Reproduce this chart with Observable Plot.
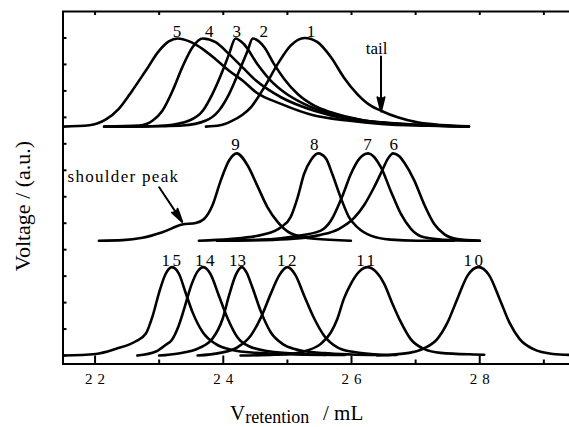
<!DOCTYPE html>
<html><head><meta charset="utf-8">
<script src="https://cdn.jsdelivr.net/npm/d3@7"></script>
<script src="https://cdn.jsdelivr.net/npm/@observablehq/plot@0.6"></script>
<style>
html,body{margin:0;padding:0;background:#fff;overflow:hidden;}
#chart{width:569px;height:427px;}
</style></head><body><div id="chart"></div>
<script>
// ---- Data ----
// Top group (baseline ~8.65)
const peak1 = [[23.73,8.65],[23.95,8.70],[24.12,8.85],[24.30,9.10],[24.43,9.38],[24.64,10.14],[24.85,11.02],[25.05,11.71],[25.27,12.00],[25.47,11.84],[25.68,11.27],[25.88,10.51],[26.09,9.88],[26.30,9.44],[26.46,9.25],[26.72,9.00],[27.03,8.81],[27.40,8.71],[27.83,8.66]];
const peak2 = [[22.15,8.65],[22.80,8.66],[23.10,8.67],[23.36,8.69],[23.73,8.88],[23.93,9.25],[24.09,9.88],[24.25,10.76],[24.38,11.52],[24.46,11.98],[24.64,11.65],[24.79,11.02],[24.95,10.45],[25.16,9.88],[25.42,9.44],[25.68,9.19],[26.20,8.88],[26.72,8.75],[27.24,8.69],[27.83,8.65]];
const peak3 = [[22.15,8.65],[22.80,8.66],[23.10,8.69],[23.47,8.88],[23.68,9.25],[23.83,9.88],[23.99,10.76],[24.09,11.39],[24.19,11.98],[24.32,11.77],[24.53,11.02],[24.74,10.39],[24.95,9.95],[25.26,9.51],[25.68,9.13],[26.20,8.88],[26.72,8.75],[27.24,8.69],[27.83,8.65]];
const peak4 = [[22.14,8.65],[22.69,8.69],[22.90,8.88],[23.05,9.25],[23.21,10.01],[23.36,10.89],[23.52,11.65],[23.68,11.98],[23.88,11.84],[24.09,11.39],[24.30,10.89],[24.51,10.39],[24.90,9.76],[25.42,9.25],[25.94,8.94],[26.46,8.81],[26.98,8.73],[27.83,8.65]];
const peak5 = [[21.50,8.65],[21.91,8.70],[22.17,8.92],[22.37,9.32],[22.58,10.01],[22.79,10.76],[23.00,11.52],[23.15,11.87],[23.29,11.98],[23.47,11.87],[23.68,11.58],[23.88,11.20],[24.09,10.76],[24.30,10.39],[24.51,9.95],[24.90,9.51],[25.42,9.07],[25.94,8.88],[26.46,8.75],[27.20,8.68],[27.83,8.65]];
// Middle group (baseline ~4.34)
const peak6 = [[24.15,4.34],[25.00,4.40],[25.50,4.55],[25.80,4.78],[26.04,5.20],[26.20,5.70],[26.35,6.35],[26.48,7.00],[26.57,7.45],[26.65,7.64],[26.75,7.52],[26.82,7.30],[26.98,6.61],[27.13,5.73],[27.29,4.97],[27.45,4.58],[27.65,4.40],[28.00,4.34]];
const peak7 = [[23.90,4.34],[24.60,4.38],[25.10,4.50],[25.52,4.72],[25.68,5.10],[25.86,6.04],[25.99,6.86],[26.12,7.43],[26.26,7.64],[26.46,7.11],[26.61,6.23],[26.77,5.35],[26.93,4.78],[27.13,4.47],[27.55,4.36],[28.00,4.34]];
const peak8 = [[23.62,4.34],[24.10,4.40],[24.64,4.58],[24.90,4.85],[25.05,5.23],[25.16,5.98],[25.26,6.86],[25.37,7.40],[25.48,7.64],[25.60,7.45],[25.70,6.86],[25.83,5.98],[25.96,5.23],[26.09,4.85],[26.30,4.53],[26.61,4.38],[27.03,4.34],[27.60,4.34]];
const peak9 = [[22.06,4.34],[22.43,4.36],[22.74,4.45],[23.05,4.66],[23.36,4.95],[23.57,5.01],[23.70,5.16],[23.83,5.67],[23.96,6.61],[24.09,7.37],[24.21,7.64],[24.38,7.18],[24.53,6.42],[24.69,5.60],[24.85,5.04],[25.05,4.62],[25.42,4.41],[25.99,4.34]];
// Bottom group (baseline 0)
const peak10 = [[26.40,0.00],[26.90,0.10],[27.13,0.27],[27.34,0.63],[27.50,1.26],[27.65,2.14],[27.81,3.02],[27.98,3.34],[28.15,3.02],[28.31,2.14],[28.46,1.26],[28.62,0.63],[28.83,0.25],[29.14,0.06],[29.45,0.02]];
const peak11 = [[24.27,0.00],[24.80,0.03],[25.10,0.08],[25.31,0.19],[25.52,0.44],[25.68,0.88],[25.78,1.39],[25.88,2.14],[25.99,2.71],[26.12,3.17],[26.25,3.34],[26.38,3.17],[26.51,2.71],[26.64,1.95],[26.77,1.26],[26.92,0.63],[27.13,0.25],[27.39,0.10],[27.91,0.04],[28.07,0.03]];
const peak12 = [[23.60,0.00],[23.95,0.10],[24.22,0.31],[24.43,0.76],[24.59,1.45],[24.74,2.33],[24.87,3.02],[25.00,3.34],[25.13,3.02],[25.26,2.27],[25.42,1.39],[25.57,0.76],[25.78,0.31],[26.04,0.13],[26.35,0.05],[26.70,0.02]];
const peak13 = [[23.00,0.00],[23.30,0.08],[23.62,0.28],[23.83,0.63],[23.99,1.39],[24.09,2.27],[24.19,3.02],[24.29,3.34],[24.36,3.15],[24.45,2.60],[24.59,1.64],[24.74,0.88],[24.95,0.40],[25.21,0.19],[25.57,0.09],[26.00,0.04],[26.40,0.02]];
const peak14 = [[22.66,0.00],[22.95,0.15],[23.10,0.40],[23.20,0.60],[23.30,1.10],[23.40,1.85],[23.50,2.65],[23.60,3.18],[23.69,3.34],[23.80,3.08],[23.93,2.27],[24.07,1.39],[24.22,0.69],[24.40,0.35],[24.80,0.13],[25.30,0.05],[25.90,0.02]];
const peak15 = [[21.50,0.00],[22.01,0.06],[22.32,0.25],[22.63,0.53],[22.79,0.82],[22.90,1.51],[23.00,2.39],[23.10,3.08],[23.20,3.34],[23.31,3.08],[23.41,2.39],[23.52,1.64],[23.68,0.88],[23.88,0.44],[24.14,0.21],[24.51,0.10],[25.00,0.05],[25.60,0.02]];

// Peak labels
const labelTexts = ["1","2","3","4","5","6","7","8","9","10","11","12","13","14","15"];
const labelX     = [25.37,24.63,24.21,23.78,23.28,26.66,26.25,25.42,24.19,27.90,26.22,24.99,24.22,23.71,23.19];
const labelY     = [12.05,12.05,12.05,12.05,12.05,7.76,7.76,7.76,7.76,3.39,3.39,3.39,3.39,3.39,3.39];

// Annotations
const tailText = ["tail"];
const tailX = [26.39];
const tailY = [11.40];
const shoulderText = ["shoulder peak"];
const shoulderX = [21.57];
const shoulderY = [6.57];
const arrowX1 = [26.46, 23.00];
const arrowY1 = [11.30, 6.36];
const arrowX2 = [26.46, 23.36];
const arrowY2 = [9.22, 5.05];

// Axes
const xMajorTicks = [22, 24, 26, 28];
const xMinorTicks = [23, 25, 27, 29];
const xTopTicks = [22, 23, 24, 25, 26, 27, 28, 29];
const yTicks = [0,1,2,3,4,5,6,7,8,9,10,11,12];
const xDomain = [21.5, 29.4];
const yDomain = [-0.32, 13.0];

// ---- Build ----
const W = 569, H = 427, mL = 62.5, mR = 0, mT = 11, mB = 63.5;
const plotH = H - mT - mB, plotW = W - mL - mR;
const peaks = [peak1,peak2,peak3,peak4,peak5,peak6,peak7,peak8,peak9,peak10,peak11,peak12,peak13,peak14,peak15];
const rows = peaks.flatMap((p, i) => p.map(([x, y]) => ({id: i + 1, x, y})));
const labels = labelTexts.map((t, i) => ({t, x: labelX[i], y: labelY[i]}));
const tails = tailText.map((t, i) => ({t, x: tailX[i], y: tailY[i]}));
const shoulders = shoulderText.map((t, i) => ({t, x: shoulderX[i], y: shoulderY[i]}));
const arrows = arrowX1.map((_, i) => ({x1: arrowX1[i], y1: arrowY1[i], x2: arrowX2[i], y2: arrowY2[i]}));
const serif = "'Liberation Serif', 'Times New Roman', serif";

const chart = Plot.plot({
  width: W, height: H,
  marginLeft: mL, marginRight: mR, marginTop: mT, marginBottom: mB,
  x: {domain: xDomain, axis: null},
  y: {domain: yDomain, axis: null},
  style: {fontFamily: serif, background: "white", color: "black", overflow: "hidden"},
  marks: [
    Plot.frame({stroke: "black", strokeWidth: 2, insetRight: -10}),
    Plot.tickX(xMajorTicks, {x: d => d, insetTop: plotH - 8, stroke: "black", strokeWidth: 2}),
    Plot.tickX(xMinorTicks, {x: d => d, insetTop: plotH - 4, stroke: "black", strokeWidth: 2}),
    Plot.tickX(xTopTicks, {x: d => d, insetBottom: plotH - 4, stroke: "black", strokeWidth: 2}),
    Plot.tickY(yTicks, {y: d => d, insetRight: plotW - 4, stroke: "black", strokeWidth: 2}),
    Plot.axisX(xMajorTicks, {tickSize: 0, tickPadding: 9, fontSize: 15, fontFamily: serif, tickFormat: d => String(d)}),
    Plot.line(rows, {x: "x", y: "y", z: "id", curve: "monotone-x", stroke: "black", strokeWidth: 2.6, clip: true}),
    Plot.text(labels, {x: "x", y: "y", text: "t", lineAnchor: "bottom", fontSize: 17, fontFamily: serif, fill: "black"}),
    Plot.text(tails, {x: "x", y: "y", text: "t", textAnchor: "middle", lineAnchor: "bottom", fontSize: 17, fontFamily: serif, fill: "black"}),
    Plot.text(shoulders, {x: "x", y: "y", text: "t", textAnchor: "start", lineAnchor: "bottom", fontSize: 17, fontFamily: serif, fill: "black"}),
    Plot.arrow(arrows, {x1: "x1", y1: "y1", x2: "x2", y2: "y2", stroke: "black", strokeWidth: 2, headLength: 11, headAngle: 28})
  ]
});
document.getElementById("chart").appendChild(chart);

const svg = d3.select(chart);
// fill arrow heads
svg.selectAll('g[aria-label="arrow"] path').attr("fill", "black");
// widen the tick labels as in the reference
svg.selectAll('g[aria-label="x-axis tick label"] text').style("letter-spacing", "5px").attr("dx", 2.5);
svg.selectAll("text").filter(function() { return ["10","11","12","14","15"].includes(this.textContent); })
  .style("letter-spacing", "2.5px").attr("dx", 1.25);
svg.selectAll("text").filter(function() { return this.textContent === "shoulder peak"; })
  .style("letter-spacing", "1.3px");

// axis titles
const xt = svg.append("text").attr("x", 230).attr("y", 420).attr("text-anchor", "start")
  .attr("font-family", serif).attr("font-size", 21).attr("fill", "black");
xt.append("tspan").text("V");
xt.append("tspan").attr("font-size", 18).attr("dy", 3).text("retention");
xt.append("tspan").attr("x", 323).attr("dy", -3).text("/ mL");
svg.append("text").attr("transform", "translate(29.5,206) rotate(-90)").attr("text-anchor", "middle")
  .attr("font-family", serif).attr("font-size", 22).attr("fill", "black").text("Voltage / (a.u.)");
</script></body></html>
